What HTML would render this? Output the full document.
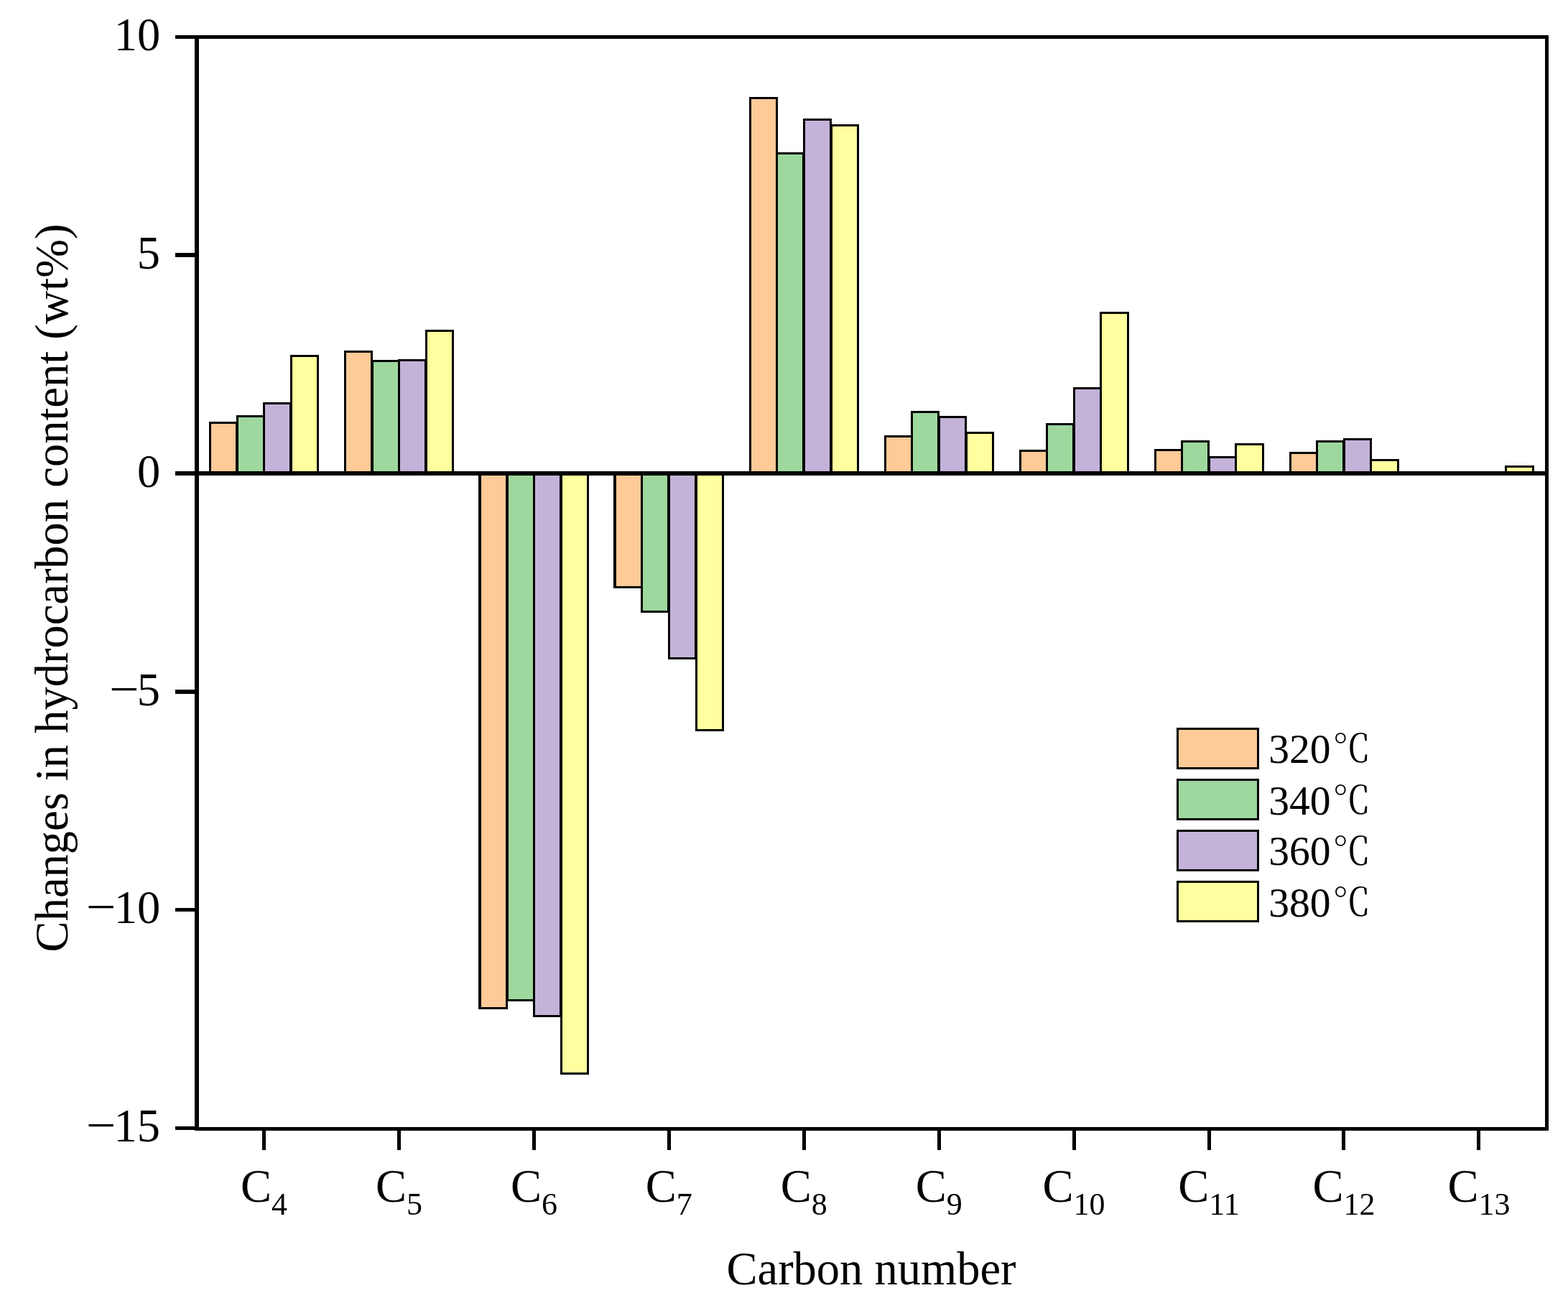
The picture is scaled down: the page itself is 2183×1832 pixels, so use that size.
<!DOCTYPE html>
<html lang="en"><head><meta charset="utf-8"><title>Changes in hydrocarbon content</title>
<style>html,body{margin:0;padding:0;background:#fff;}body{width:2183px;height:1832px;overflow:hidden;}svg{display:block;}text{font-family:"Liberation Serif","Noto Serif CJK SC",serif;fill:#000;}.t{font-size:64.5px;}.s{font-size:44px;}.l{font-size:57.6px;}.c{font-size:53px;}</style></head><body>
<svg width="2183" height="1832" viewBox="0 0 2183 1832">
<rect x="0" y="0" width="2183" height="1832" fill="#fff"/>
<g shape-rendering="crispEdges" stroke="#000" stroke-width="3">
<rect x="292.5" y="588.5" width="37.0" height="70.0" fill="#FDCA98"/>
<rect x="330.5" y="579.5" width="37.0" height="79.0" fill="#9ED89E"/>
<rect x="367.5" y="561.5" width="37.0" height="97.0" fill="#C4B3D9"/>
<rect x="405.5" y="495.5" width="37.0" height="163.0" fill="#FFFF9F"/>
<rect x="480.5" y="489.5" width="37.0" height="169.0" fill="#FDCA98"/>
<rect x="518.5" y="502.5" width="37.0" height="156.0" fill="#9ED89E"/>
<rect x="555.5" y="501.5" width="37.0" height="157.0" fill="#C4B3D9"/>
<rect x="593.5" y="460.5" width="37.0" height="198.0" fill="#FFFF9F"/>
<rect x="667.5" y="658.5" width="38.0" height="745.0" fill="#FDCA98"/>
<rect x="668.5" y="658.5" width="37.0" height="745.0" fill="#FDCA98"/>
<rect x="706.5" y="658.5" width="37.0" height="734.0" fill="#9ED89E"/>
<rect x="743.5" y="658.5" width="37.0" height="756.0" fill="#C4B3D9"/>
<rect x="781.5" y="658.5" width="37.0" height="836.0" fill="#FFFF9F"/>
<rect x="855.5" y="658.5" width="38.0" height="159.0" fill="#FDCA98"/>
<rect x="856.5" y="658.5" width="37.0" height="159.0" fill="#FDCA98"/>
<rect x="893.5" y="658.5" width="37.0" height="193.0" fill="#9ED89E"/>
<rect x="931.5" y="658.5" width="37.0" height="258.0" fill="#C4B3D9"/>
<rect x="969.5" y="658.5" width="37.0" height="358.0" fill="#FFFF9F"/>
<rect x="1044.5" y="136.5" width="37.0" height="522.0" fill="#FDCA98"/>
<rect x="1081.5" y="213.5" width="37.0" height="445.0" fill="#9ED89E"/>
<rect x="1119.5" y="166.5" width="37.0" height="492.0" fill="#C4B3D9"/>
<rect x="1157.5" y="174.5" width="37.0" height="484.0" fill="#FFFF9F"/>
<rect x="1232.5" y="607.5" width="37.0" height="51.0" fill="#FDCA98"/>
<rect x="1269.5" y="573.5" width="37.0" height="85.0" fill="#9ED89E"/>
<rect x="1307.5" y="580.5" width="37.0" height="78.0" fill="#C4B3D9"/>
<rect x="1345.5" y="602.5" width="37.0" height="56.0" fill="#FFFF9F"/>
<rect x="1420.5" y="627.5" width="37.0" height="31.0" fill="#FDCA98"/>
<rect x="1457.5" y="590.5" width="37.0" height="68.0" fill="#9ED89E"/>
<rect x="1495.5" y="540.5" width="37.0" height="118.0" fill="#C4B3D9"/>
<rect x="1532.5" y="435.5" width="38.0" height="223.0" fill="#FFFF9F"/>
<rect x="1608.5" y="626.5" width="37.0" height="32.0" fill="#FDCA98"/>
<rect x="1645.5" y="614.5" width="37.0" height="44.0" fill="#9ED89E"/>
<rect x="1683.5" y="636.5" width="37.0" height="22.0" fill="#C4B3D9"/>
<rect x="1720.5" y="618.5" width="38.0" height="40.0" fill="#FFFF9F"/>
<rect x="1796.5" y="630.5" width="37.0" height="28.0" fill="#FDCA98"/>
<rect x="1833.5" y="614.5" width="37.0" height="44.0" fill="#9ED89E"/>
<rect x="1871.5" y="611.5" width="37.0" height="47.0" fill="#C4B3D9"/>
<rect x="1908.5" y="640.5" width="38.0" height="18.0" fill="#FFFF9F"/>
<rect x="2096.5" y="649.5" width="38.0" height="9.0" fill="#FFFF9F"/>
</g>
<g shape-rendering="crispEdges" fill="#000">
<rect x="271" y="49" width="6" height="1525"/>
<rect x="2151" y="49" width="5" height="1525"/>
<rect x="271" y="49" width="1885" height="5"/>
<rect x="271" y="1569" width="1885" height="5"/>
<rect x="271" y="656" width="1885" height="6"/>
<rect x="244" y="49" width="28" height="5"/>
<rect x="244" y="352" width="28" height="6"/>
<rect x="244" y="656" width="28" height="6"/>
<rect x="244" y="960" width="28" height="6"/>
<rect x="244" y="1264" width="28" height="5"/>
<rect x="244" y="1568" width="28" height="5"/>
<rect x="365" y="1573" width="5" height="28"/>
<rect x="553" y="1573" width="5" height="28"/>
<rect x="741" y="1573" width="5" height="28"/>
<rect x="929" y="1573" width="5" height="28"/>
<rect x="1117" y="1573" width="5" height="28"/>
<rect x="1305" y="1573" width="5" height="28"/>
<rect x="1493" y="1573" width="5" height="28"/>
<rect x="1681" y="1573" width="5" height="28"/>
<rect x="1868" y="1573" width="5" height="28"/>
<rect x="2056" y="1573" width="5" height="28"/>
</g>
<text class="t" x="223.3" y="70.1" text-anchor="end">10</text>
<text class="t" x="223.0" y="373.6" text-anchor="end">5</text>
<text class="t" x="223.3" y="677.6" text-anchor="end">0</text>
<text class="t" y="980.5"><tspan x="152.3" textLength="41.6" lengthAdjust="spacingAndGlyphs">−</tspan><tspan x="223.0" dy="1.1" text-anchor="end">5</tspan></text>
<text class="t" y="1284.0"><tspan x="120.1" textLength="41.6" lengthAdjust="spacingAndGlyphs">−</tspan><tspan x="223.3" dy="1.1" text-anchor="end">10</tspan></text>
<text class="t" y="1588.0"><tspan x="120.1" textLength="41.6" lengthAdjust="spacingAndGlyphs">−</tspan><tspan x="223.0" dy="1.1" text-anchor="end">15</tspan></text>
<text class="t" x="367.5" y="1672.9" text-anchor="middle">C<tspan class="s" dy="17.8">4</tspan></text>
<text class="t" x="555.4" y="1672.9" text-anchor="middle">C<tspan class="s" dy="17.8">5</tspan></text>
<text class="t" x="743.4" y="1672.9" text-anchor="middle">C<tspan class="s" dy="17.8">6</tspan></text>
<text class="t" x="931.3" y="1672.9" text-anchor="middle">C<tspan class="s" dy="17.8">7</tspan></text>
<text class="t" x="1119.2" y="1672.9" text-anchor="middle">C<tspan class="s" dy="17.8">8</tspan></text>
<text class="t" x="1307.2" y="1672.9" text-anchor="middle">C<tspan class="s" dy="17.8">9</tspan></text>
<text class="t" x="1495.1" y="1672.9" text-anchor="middle">C<tspan class="s" dy="17.8">10</tspan></text>
<text class="t" x="1683.0" y="1672.9" text-anchor="middle">C<tspan class="s" dy="17.8">11</tspan></text>
<text class="t" x="1870.9" y="1672.9" text-anchor="middle">C<tspan class="s" dy="17.8">12</tspan></text>
<text class="t" x="2058.9" y="1672.9" text-anchor="middle">C<tspan class="s" dy="17.8">13</tspan></text>
<text class="t" x="1213" y="1787.9" text-anchor="middle">Carbon number</text>
<text class="t" transform="translate(94.3,818.5) rotate(-90)" text-anchor="middle">Changes in hydrocarbon content (wt%)</text>
<g shape-rendering="crispEdges" stroke="#000" stroke-width="3">
<rect x="1639.5" y="1014.5" width="112" height="55" fill="#FDCA98"/>
<rect x="1639.5" y="1085.5" width="112" height="55" fill="#9ED89E"/>
<rect x="1639.5" y="1156.5" width="112" height="55" fill="#C4B3D9"/>
<rect x="1639.5" y="1227.5" width="112" height="55" fill="#FFFF9F"/>
</g>
<text class="l" x="1766.2" y="1061.7">320<tspan class="c" x="1855.2" dy="-0.5">℃</tspan></text>
<text class="l" x="1766.2" y="1133.5">340<tspan class="c" x="1855.2" dy="-0.5">℃</tspan></text>
<text class="l" x="1766.2" y="1204.3">360<tspan class="c" x="1855.2" dy="-0.5">℃</tspan></text>
<text class="l" x="1766.2" y="1275.8">380<tspan class="c" x="1855.2" dy="-0.5">℃</tspan></text>
</svg></body></html>
